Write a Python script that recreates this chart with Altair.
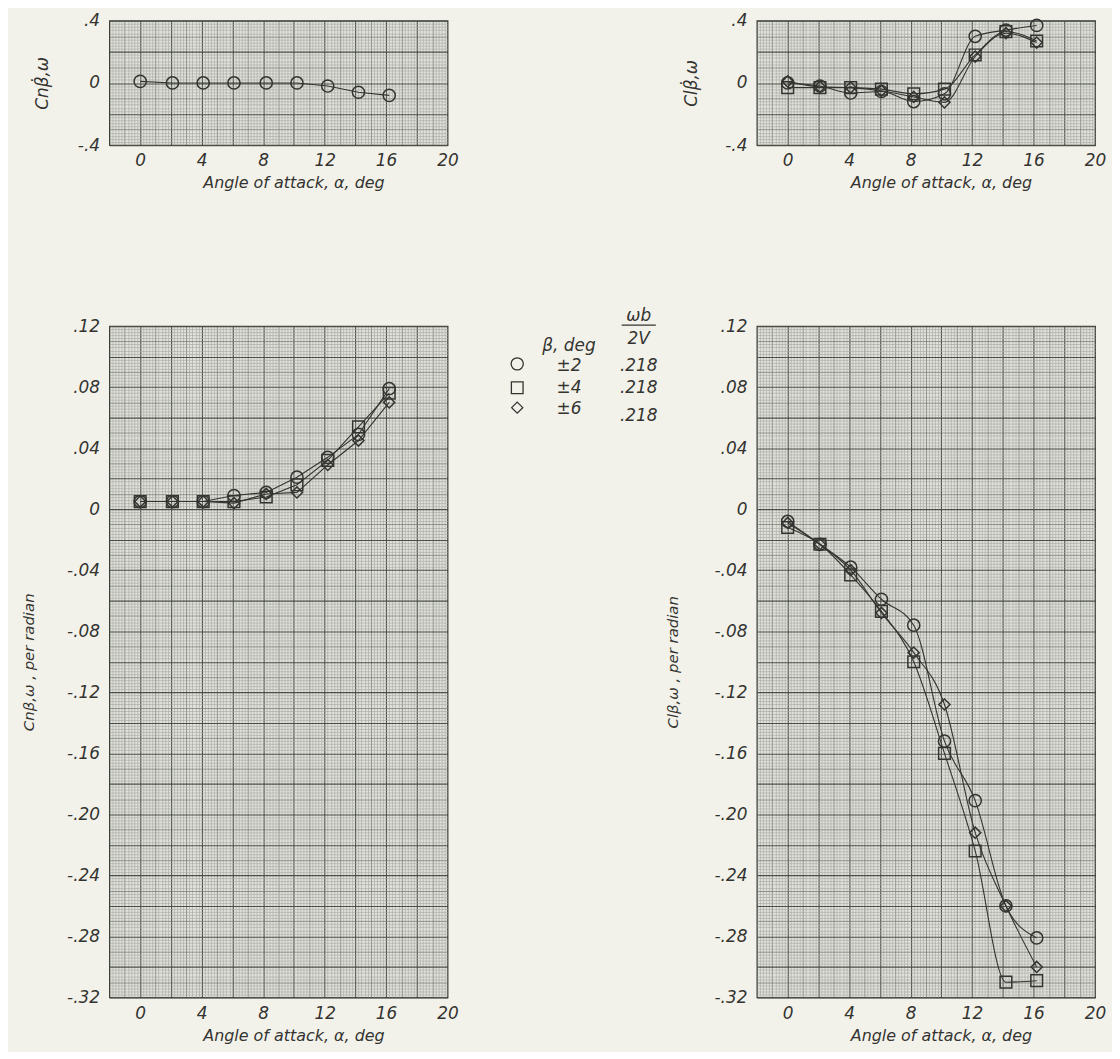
import altair as alt
import pandas as pd

# ---------------- data ----------------
alpha = [0, 2.1, 4.1, 6.1, 8.2, 10.2, 12.2, 14.2, 16.2]
series = ["±2", "±4", "±6"]
omega_b_2v = [".218", ".218", ".218"]

# top-left: Cn beta-dot, omega  (one faired set, circles)
cn_bdot = [0.01, 0.0, 0.0, 0.0, 0.0, 0.0, -0.02, -0.06, -0.08]

# top-right: Cl beta-dot, omega
cl_bdot_2 = [0.0, -0.02, -0.065, -0.055, -0.12, -0.07, 0.30, 0.34, 0.37]
cl_bdot_4 = [-0.03, -0.03, -0.03, -0.04, -0.07, -0.04, 0.18, 0.33, 0.27]
cl_bdot_6 = [0.01, -0.025, -0.03, -0.05, -0.09, -0.125, 0.17, 0.32, 0.26]

# bottom-left: Cn beta, omega, per radian
cn_b_2 = [0.005, 0.005, 0.005, 0.009, 0.011, 0.021, 0.034, 0.049, 0.079]
cn_b_4 = [0.005, 0.005, 0.005, 0.005, 0.008, 0.016, 0.032, 0.054, 0.076]
cn_b_6 = [0.005, 0.005, 0.005, 0.004, 0.010, 0.011, 0.029, 0.045, 0.070]

# bottom-right: Cl beta, omega, per radian
cl_b_2 = [-0.008, -0.023, -0.038, -0.059, -0.076, -0.152, -0.191, -0.260, -0.281]
cl_b_4 = [-0.012, -0.023, -0.043, -0.067, -0.100, -0.160, -0.224, -0.310, -0.309]
cl_b_6 = [-0.009, -0.023, -0.040, -0.068, -0.094, -0.128, -0.212, -0.260, -0.300]


def long_df(d):
    rows = []
    for s, vals in d.items():
        for a, v in zip(alpha, vals):
            rows.append({"alpha": a, "value": v, "series": s})
    return pd.DataFrame(rows)


# ---------------- styling ----------------
FONT = "DejaVu Sans"
INK = "#333431"
PAPER = "#f3f2ea"
PLOTBG = "#e1e2db"
HEAVY = "#4b4e49"
MED = "#7c7f79"
FINE = "#a3a69f"

XDOM = [-2.0, 20.0]
XVALS = [round(-1.8 + 0.2 * i, 4) for i in range(110)]
PW = 340

shape_scale = alt.Scale(domain=series, range=["circle", "square", "diamond"])
size_scale = alt.Scale(domain=series, range=[150, 125, 250])


def cond(step, heavy_every, med_every, vh, vm, vf):
    k = f"round(datum.value/{step})"
    return {
        "condition": [
            {"test": f"{k} % {heavy_every} === 0", "value": vh},
            {"test": f"{k} % {med_every} === 0", "value": vm},
        ],
        "value": vf,
    }


def x_axis():
    return alt.Axis(
        values=XVALS,
        title="Angle of attack, α, deg",
        grid=True,
        ticks=False,
        domain=False,
        labelExpr="(round(datum.value/0.2) % 20 === 0 && datum.value > -0.1) ? format(round(datum.value),'d') : ''",
        labelOverlap=False,
        labelFlush=False,
        labelFont=FONT,
        labelFontSize=17,
        labelFontStyle="italic",
        labelColor=INK,
        labelPadding=8,
        titleFont=FONT,
        titleFontSize=16,
        titleFontStyle="italic",
        titleFontWeight="normal",
        titleColor=INK,
        titlePadding=6,
        titleX=185,
        gridColor=cond(0.2, 10, 5, HEAVY, MED, FINE),
        gridWidth=cond(0.2, 10, 5, 1.1, 0.8, 0.6),
        gridOpacity={"condition": {"test": "datum.value > 19.9", "value": 0}, "value": 1},
    )


def y_axis(ydom, step, digits, title, tpad, tsize):
    n = int(round((ydom[1] - ydom[0]) / step)) + 1
    vals = [round(ydom[0] + step * i, 5) for i in range(n)]
    k = f"round(datum.value/{step})"
    expr = (
        f"({k} % 20 === 0) ? ({k} === 0 ? '0' : "
        f"(datum.value < 0 ? '-' : '') + replace(format(abs(datum.value), '.{digits}f'), '0.', '.')) : ''"
    )
    return alt.Axis(
        values=vals,
        title=title,
        grid=True,
        ticks=False,
        domain=False,
        labelExpr=expr,
        labelOverlap=False,
        labelFont=FONT,
        labelFontSize=17,
        labelFontStyle="italic",
        labelColor=INK,
        labelPadding=10,
        titleFont=FONT,
        titleFontSize=tsize,
        titleFontStyle="italic",
        titleFontWeight="normal",
        titleColor=INK,
        titlePadding=tpad,
        gridColor=cond(step, 10, 5, HEAVY, MED, FINE),
        gridWidth=cond(step, 10, 5, 1.1, 0.8, 0.6),
    )


def panel(df, ydom, step, digits, title, h, interp, tpad, tsize):
    x = alt.X("alpha:Q", scale=alt.Scale(domain=XDOM, nice=False, zero=False), axis=x_axis())
    y = alt.Y("value:Q", scale=alt.Scale(domain=ydom, nice=False, zero=False),
              axis=y_axis(ydom, step, digits, title, tpad, tsize))
    base = alt.Chart(df)
    lines = base.mark_line(interpolate=interp, color=INK, strokeWidth=1.1).encode(
        x=x, y=y, detail="series:N")
    pts = base.mark_point(filled=False, color=INK, strokeWidth=1.5, opacity=1).encode(
        x=x, y=y,
        shape=alt.Shape("series:N", scale=shape_scale, legend=None),
        size=alt.Size("series:O", scale=size_scale, legend=None),
    )
    return alt.layer(lines, pts).properties(
        width=PW, height=h,
        view=alt.ViewBackground(fill=PLOTBG, stroke="#3d403b", strokeWidth=1.3),
    )


tl = panel(long_df({"±2": cn_bdot}), [-0.4, 0.4], 0.02, 1, "Cnβ̇,ω", 125, "linear", 26, 17)
tr = panel(long_df({"±2": cl_bdot_2, "±4": cl_bdot_4, "±6": cl_bdot_6}), [-0.4, 0.4], 0.02, 1,
           "Clβ̇,ω", 125, "monotone", 24, 17)
bl = panel(long_df({"±2": cn_b_2, "±4": cn_b_4, "±6": cn_b_6}), [-0.32, 0.12], 0.002, 2,
           "Cnβ,ω , per radian", 675, "linear", 30, 15)
br = panel(long_df({"±2": cl_b_2, "±4": cl_b_4, "±6": cl_b_6}), [-0.32, 0.12], 0.002, 2,
           "Clβ,ω , per radian", 675, "monotone", 34, 15)

# ---------------- key (legend table) ----------------
LEGW = 251
LEGH = 120
col_sym, col_beta, col_wb = 0, 1, 2.35
leg_text = pd.DataFrame({
    "col": [col_beta, col_wb, col_wb] + [col_beta] * 3 + [col_wb] * 3,
    "row": [1.35, 0.0, 1.05, 2.3, 3.3, 4.25, 2.3, 3.3, 4.55],
    "text": ["β, deg", "ωb", "2V"] + series + omega_b_2v,
})
leg_sym = pd.DataFrame({"col": [col_sym] * 3, "row": [2.18, 3.27, 4.18], "series": series})
leg_bar = pd.DataFrame({"col": [col_wb - 0.33], "col2": [col_wb + 0.33], "row": [0.41]})

lx = alt.X("col:Q", scale=alt.Scale(domain=[-0.769, 4.058], nice=False, zero=False), axis=None)
ly = alt.Y("row:Q", scale=alt.Scale(domain=[0.4545, 5.909], nice=False, zero=False, reverse=True), axis=None)

leg = alt.layer(
    alt.Chart(leg_text).mark_text(font=FONT, fontSize=17, fontStyle="italic", color=INK,
                                  align="center", baseline="middle").encode(x=lx, y=ly, text="text:N"),
    alt.Chart(leg_sym).mark_point(filled=False, color=INK, strokeWidth=1.3, opacity=1).encode(
        x=lx, y=ly,
        shape=alt.Shape("series:N", scale=shape_scale, legend=None),
        size=alt.Size("series:O", scale=alt.Scale(domain=series, range=[110, 95, 190]), legend=None)),
    alt.Chart(leg_bar).mark_rule(color=INK, strokeWidth=1.3).encode(x=lx, x2="col2:Q", y=ly),
).properties(width=LEGW, height=LEGH, view=alt.ViewBackground(stroke="transparent", fill="transparent"))

blank = alt.Chart(pd.DataFrame({"v": [0]})).mark_point(opacity=0).encode(
    x=alt.X("v:Q", axis=None), y=alt.Y("v:Q", axis=None)
).properties(width=LEGW, height=125, view=alt.ViewBackground(stroke="transparent", fill="transparent"))

chart = alt.concat(
    tl, blank, tr, bl, leg, br,
    columns=3,
    spacing={"row": 182, "column": 30},
    bounds="flush",
    align="each",
).properties(
    padding={"left": 13, "top": 0, "right": 5, "bottom": 5},
).configure(
    background=PAPER,
    font=FONT,
).configure_view(stroke="transparent")

chart.save("out.html", embed_options={"renderer": "svg", "actions": False})
